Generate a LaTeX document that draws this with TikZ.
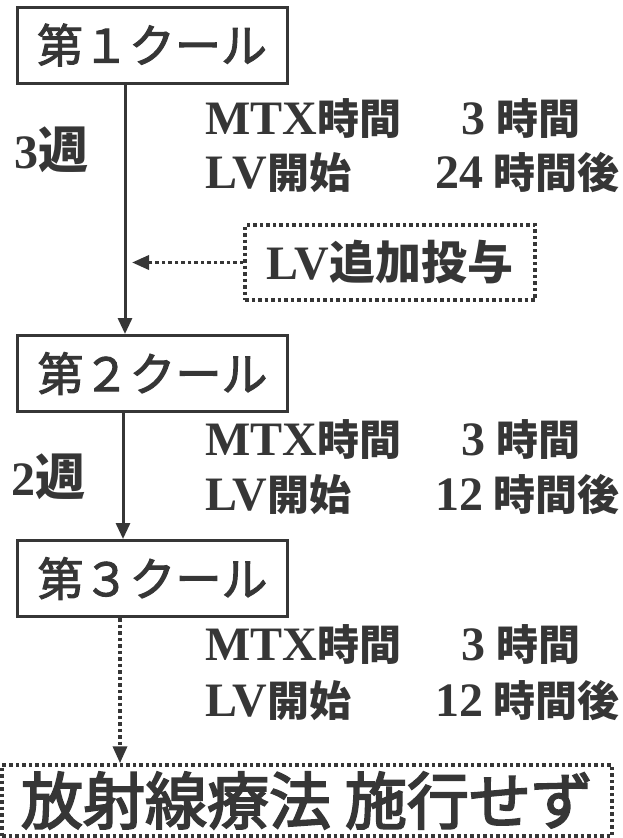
\documentclass[tikz,border=0pt]{standalone}
\usepackage{fontspec}
\setmainfont{Liberation Serif}
\newfontfamily\cjk{Noto Sans CJK JP}
\newfontfamily\cjkm[FakeBold=2.2]{Noto Sans CJK JP}
\newfontfamily\cjkh[FakeBold=3]{Noto Sans CJK JP}
\usetikzlibrary{arrows.meta}
\definecolor{ink}{HTML}{363636}
\newcommand\fsA{\fontsize{46pt}{50pt}\selectfont}
\newcommand\fsK{\fontsize{42pt}{46pt}\selectfont}
\newcommand\fsL{\fontsize{48pt}{52pt}\selectfont}
\newcommand\fsF{\fontsize{62pt}{66pt}\selectfont}
\newcommand\tnr[1]{{\fsL\bfseries #1}}
\newcommand\kj[1]{{\fsA\cjk\bfseries #1}}
\newcommand\kk[1]{{\fsK\cjk\bfseries #1}}
\tikzset{
  cyclebox/.style={draw=ink, line width=3pt, minimum width=270pt, minimum height=76pt,
    inner sep=0pt, text=ink, font=\fsA\cjkm},
  dotbox/.style={draw=ink, line width=3.5pt, dash pattern=on 3.5pt off 3pt, inner sep=0pt, text=ink},
  txt/.style={inner sep=0pt, text=ink},
  solidarr/.style={draw=ink, line width=3pt, -{Triangle[length=16pt,width=14pt]}},
  dotarr/.style={draw=ink, line width=3.5pt, dash pattern=on 3.5pt off 3pt, -{Triangle[length=17pt,width=14pt]}}
}
\begin{document}
\begin{tikzpicture}[x=1pt,y=-1pt]
\useasboundingbox (0,0) rectangle (623,838);

% cycle boxes
\node[cyclebox] (c1) at (152,45) {第１クール};
\node[cyclebox] (c2) at (152.5,373.5) {第２クール};
\node[cyclebox] (c3) at (152.5,578.5) {第３クール};

% LV additional box
\node[dotbox, minimum width=290pt, minimum height=75pt] (add) at (390,262.5) {\tnr{LV}\kj{追加投与}};

% final box
\node[dotbox, minimum width=610pt, minimum height=71pt] (fin) at (307,800.5) {\fsF\cjkh 放射線療法 施行せず};

% week labels
\node[txt, anchor=base west] (w1) at (14,168) {\tnr{3}{\fontsize{50pt}{54pt}\selectfont\cjk\bfseries 週}};
\node[txt, anchor=base west] (w2) at (11,495) {\tnr{2}{\fontsize{50pt}{54pt}\selectfont\cjk\bfseries 週}};

% group 1
\node[txt, anchor=base west] (g1a) at (205,134) {\tnr{MTX}\kk{時間}};
\node[txt, anchor=base east] (g1b) at (486,134) {\tnr{3}};
\node[txt, anchor=base west] (g1c) at (496,134) {\kk{時間}};
\node[txt, anchor=base west] (g1d) at (205,188) {\tnr{LV}\kk{開始}};
\node[txt, anchor=base east] (g1e) at (484,188) {\tnr{24}};
\node[txt, anchor=base west] (g1f) at (493,188) {\kk{時間後}};

% group 2
\node[txt, anchor=base west] (g2a) at (205,455) {\tnr{MTX}\kk{時間}};
\node[txt, anchor=base east] (g2b) at (486,455) {\tnr{3}};
\node[txt, anchor=base west] (g2c) at (496,455) {\kk{時間}};
\node[txt, anchor=base west] (g2d) at (205,510) {\tnr{LV}\kk{開始}};
\node[txt, anchor=base east] (g2e) at (484,510) {\tnr{12}};
\node[txt, anchor=base west] (g2f) at (493,510) {\kk{時間後}};

% group 3
\node[txt, anchor=base west] (g3a) at (205,660) {\tnr{MTX}\kk{時間}};
\node[txt, anchor=base east] (g3b) at (486,660) {\tnr{3}};
\node[txt, anchor=base west] (g3c) at (496,660) {\kk{時間}};
\node[txt, anchor=base west] (g3d) at (205,716) {\tnr{LV}\kk{開始}};
\node[txt, anchor=base east] (g3e) at (484,716) {\tnr{12}};
\node[txt, anchor=base west] (g3f) at (493,716) {\kk{時間後}};

% connectors
\coordinate (s1) at ([xshift=-27pt]c1.south);
\coordinate (s2) at ([xshift=-29.5pt]c2.south);
\coordinate (s3) at ([xshift=-32.5pt]c3.south);
\draw[solidarr] (s1) -- (s1 |- c2.north);
\draw[solidarr] (s2) -- (s2 |- c3.north);
\draw[dotarr] (s3) -- (s3 |- fin.north);
\coordinate (hit) at (132,262.5);
\draw[dotarr] (add.west) -- (hit);
\end{tikzpicture}
\end{document}
